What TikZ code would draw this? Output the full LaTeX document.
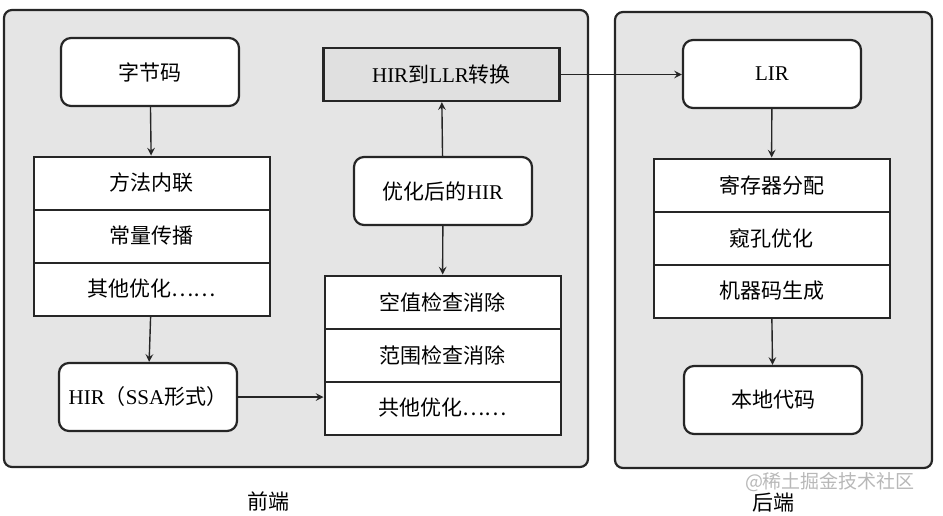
\documentclass[tikz,border=0pt]{standalone}
\usepackage{fontspec}
\setmainfont{Liberation Serif}
\newfontfamily\cjk{Noto Sans CJK SC}
\tikzset{
  panel/.style={draw=black!85,line width=1.1pt,fill=black!10,rounded corners=4pt},
  rbox/.style={draw=black!85,line width=1.1pt,fill=white,rounded corners=5pt,
    minimum width=89pt,minimum height=34pt,inner sep=0pt},
  row/.style={draw=black!85,line width=1pt,fill=white,
    minimum width=118pt,minimum height=26.5pt,inner sep=0pt},
  conv/.style={draw=black!85,line width=1.2pt,fill=black!12,
    minimum width=118pt,minimum height=26.5pt,inner sep=0pt},
  flow/.style={->,line width=0.7pt,black!85}
}
\begin{document}
\begin{tikzpicture}[x=0.5pt,y=-0.5pt,>=stealth,font=\fontsize{10.5}{12}\selectfont]
  \useasboundingbox(0,0)rectangle(943,515);
  \draw[panel](4,10)rectangle(588,467);
  \draw[panel](615,12)rectangle(932,468);
  % 前端
  \node[rbox](bc) at (150,72){\cjk 字节码};
  \node[row](l1) at (151.5,183){\cjk 方法内联};
  \node[row](l2) at (151.5,236){\cjk 常量传播};
  \node[row](l3) at (151.5,289){\cjk 其他优化……};
  \node[rbox](hir) at (148,397){HIR{\cjk （}SSA{\cjk 形式）}};
  \node[conv](cv) at (441.5,74.5){HIR{\cjk 到}LLR{\cjk 转换}};
  \node[rbox](opt) at (443,191){{\cjk 优化后的}HIR};
  \node[row](m1) at (442.5,302){\cjk 空值检查消除};
  \node[row](m2) at (442.5,355){\cjk 范围检查消除};
  \node[row](m3) at (442.5,408){\cjk 共他优化……};
  % 后端
  \node[rbox](lir) at (772,74){LIR};
  \node[row](r1) at (771.5,185){\cjk 寄存器分配};
  \node[row](r2) at (771.5,238){\cjk 窥孔优化};
  \node[row](r3) at (771.5,291){\cjk 机器码生成};
  \node[rbox](nat) at (773,400){\cjk 本地代码};
  \draw[flow](bc)--(l1);
  \draw[flow](l3)--(hir);
  \draw[flow](hir.east)--(hir.east-|m3.west);
  \draw[flow](opt)--(cv);
  \draw[flow](opt)--(m1);
  \draw[flow](cv.east)--(cv.east-|lir.west);
  \draw[flow](lir)--(r1);
  \draw[flow](r3)--(nat);
  \node[inner sep=1pt](fe) at (268,501){\cjk 前端};
  \node[inner sep=1pt](be) at (773,503){\cjk 后端};
  \node[inner sep=1pt,text=black!28,font=\fontsize{9.5}{10}\selectfont](wm) at (830,482){\cjk @稀土掘金技术社区};
\end{tikzpicture}
\end{document}
